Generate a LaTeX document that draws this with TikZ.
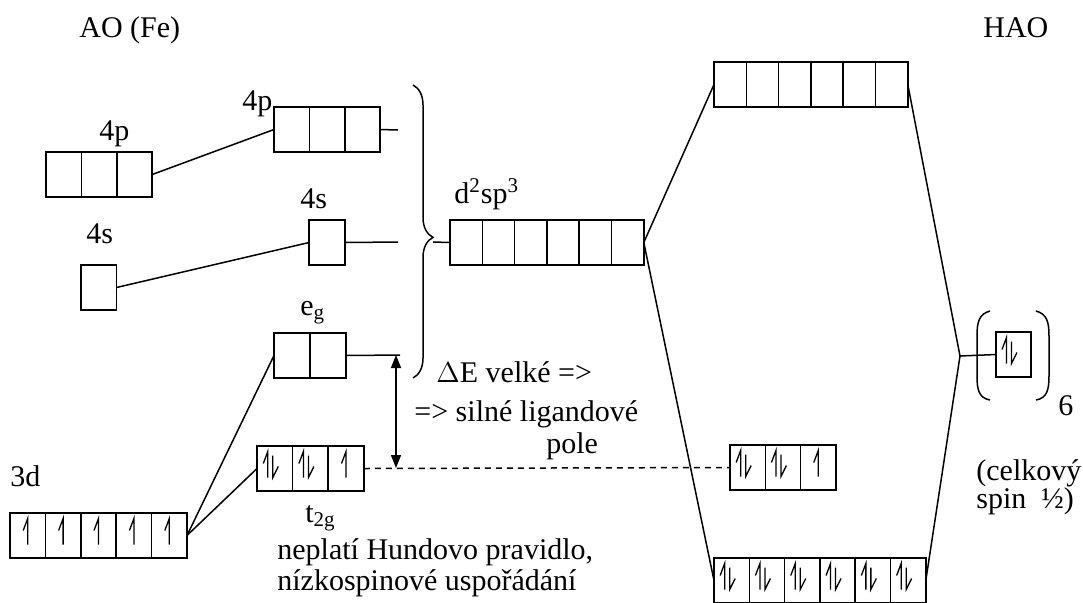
\documentclass[tikz,border=0pt]{standalone}
\usepackage{fontspec}
\setmainfont{Liberation Serif}
\usetikzlibrary{arrows.meta,calc,decorations.pathreplacing}
\tikzset{
  orb/.style={draw=black, line width=.8pt, minimum width=#1, minimum height=22.5pt,
    inner sep=0pt, outer sep=0pt, anchor=north west},
  orb/.default=17.7pt,
  spin/.style={line width=.65pt, line join=miter},
  link/.style={line width=.75pt},
  level/.style={line width=.75pt, dash pattern=on 3pt off 2.5pt},
  gap/.style={{Triangle[length=6.5pt,width=5pt]}-{Triangle[length=6.5pt,width=5pt]}, line width=.75pt},
  txt/.style={anchor=base west, inner sep=0pt}
}
% row of orbital cells: name, left, top, count, cell width
\newcommand{\orbrow}[5]{%
  \foreach \k in {1,...,#4}
    \node[orb={#5*.5pt}] (#1\k) at ({#2+(\k-1)*#5},#3) {};}
% electrons: cell, x offset
\newcommand{\eup}[2]{\draw[spin] ($(#1)+(#2,9)$) -- ++(0,-26) -- ++(-4.5,12);}
\newcommand{\edown}[2]{\draw[spin] ($(#1)+(#2,-13)$) -- ++(0,22) -- ++(5.5,-11);}
\newcommand{\epair}[1]{\eup{#1}{-7}\edown{#1}{-2}}

\begin{document}
\begin{tikzpicture}[x=.5pt, y=-.5pt, font=\fontsize{15}{18}\selectfont]
  \useasboundingbox (0,0) rectangle (1083,602);
  \node[txt] (aoFe) at (79,37) {AO (Fe)};
  \node[txt] (hao) at (983,37) {HAO};

  % atomic orbitals
  \orbrow{p}{46}{152}{3}{35.4}
  \orbrow{s}{81}{265}{1}{35.5}
  \orbrow{d}{10}{513}{5}{35.4}
  \node[txt] (lblp) at (99,140) {4p};
  \node[txt] (lbls) at (86,243) {4s};
  \node[txt] (lbld) at (10,486) {3d};
  \foreach \k in {1,...,5} {\eup{d\k}{0}}

  % split levels
  \orbrow{pp}{274}{107}{3}{35.4}
  \orbrow{ss}{309}{220}{1}{36}
  \orbrow{eg}{274}{333}{2}{36}
  \orbrow{t}{257}{446}{3}{35.6}
  \node[txt] (lblpp) at (242,110) {4p};
  \node[txt] (lblss) at (300,208) {4s};
  \node[txt] (lbleg) at (300,315) {e\textsubscript{g}};
  \node[txt] (lblt) at (305,522) {t\textsubscript{2g}};
  \epair{t1}\epair{t2}\eup{t3}{0}

  \draw[link] (p3.east) -- (pp1.west);
  \draw[link] (s1.east) -- (ss1.west);
  \draw[link] (d5.east) -- (eg1.west);
  \draw[link] (d5.east) -- (t1.west);

  \coordinate (pEnd) at (398,130);
  \coordinate (sEnd) at (398,242);
  \coordinate (egEnd) at (400,355);
  \draw[link] (pp3.east) -- (pEnd);
  \draw[link] (ss1.east) -- (sEnd);
  \draw[link] (eg2.east) -- (egEnd);

  % splitting
  \coordinate (dEtop) at (396,355);
  \coordinate (dEbot) at (396,468);
  \draw[gap] (dEtop) -- (dEbot);
  \node[txt] (dE1) at (436,382) {$\Delta$E velké =>};
  \node[txt] (dE2) at (414,421) {=> silné ligandové};
  \node[txt] (dE3) at (546,453) {pole};
  \node[txt] (hund1) at (277,559) {neplatí Hundovo pravidlo,};
  \node[txt] (hund2) at (277,590) {nízkospinové uspořádání};

  % hybrid orbitals
  \draw[link, decorate, decoration={brace, amplitude=10pt, aspect=.52}] (413,85) -- (413,378);
  \coordinate (brTip) at (433,242);
  \orbrow{hy}{450}{220}{6}{32.3}
  \node[txt] (lblhy) at (454,203) {d\textsuperscript{2}sp\textsuperscript{3}};
  \draw[link] (brTip) -- (hy1.west);

  % complex
  \orbrow{ab}{714}{62}{6}{32.3}
  \orbrow{rt}{730}{445}{3}{35.3}
  \orbrow{bb}{714}{558}{6}{35.3}
  \orbrow{lg}{996}{332}{1}{35}
  \epair{rt1}\epair{rt2}\eup{rt3}{0}
  \foreach \k in {1,...,6} {\epair{bb\k}}
  \epair{lg1}
  \draw[level] (t3.east) -- (rt1.west);

  \coordinate (vtx) at (960,356);
  \draw[link] (hy6.east) -- (ab1.west);
  \draw[link] (hy6.east) -- (bb1.west);
  \draw[link] (ab6.east) -- (vtx) -- (bb6.east);
  \draw[link] (vtx) -- (lg1.west);

  \draw[link] (990,311) .. controls (979,314) and (977,322) .. (977,336) -- (977,376) .. controls (977,390) and (979,398) .. (990,400);
  \draw[link] (1036,311) .. controls (1047,314) and (1049,322) .. (1049,336) -- (1049,376) .. controls (1049,390) and (1047,398) .. (1036,400);
  \node[txt] (lbl6) at (1058,415) {6};
  \node[txt] (spin1) at (976,480) {(celkový};
  \node[txt] (spin2) at (976,508) {spin\ \ ½)};
\end{tikzpicture}
\end{document}
